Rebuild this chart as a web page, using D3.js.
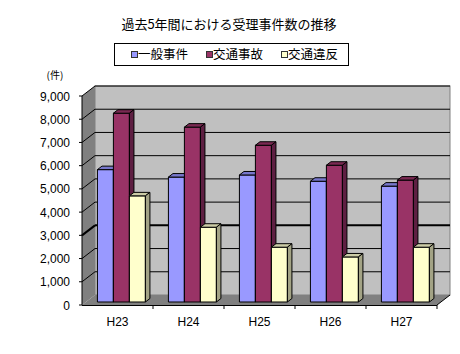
<!DOCTYPE html>
<html>
<head>
<meta charset="utf-8">
<script src="https://cdn.jsdelivr.net/npm/d3@7"></script>
<style>
  body { margin: 0; background: #fff; }
  svg { display: block; }
  .jp { font-family: "Noto Sans CJK JP", sans-serif; }
  .num { font-family: "Liberation Sans", Arial, sans-serif; }
</style>
</head>
<body>
<div id="chart"></div>
<script>
const categories = ["H23", "H24", "H25", "H26", "H27"];
const seriesNames = ["一般事件", "交通事故", "交通違反"];
const ippan = [5700, 5380, 5470, 5200, 4990];
const jiko = [8130, 7530, 6750, 5890, 5250];
const ihan = [4570, 3220, 2360, 1940, 2360];
const yTicks = [0, 1000, 2000, 3000, 4000, 5000, 6000, 7000, 8000, 9000];

const width = 460, height = 354;
const colors = ["#9999ff", "#993366", "#ffffcc"];
const depthX = 13, depthY = -10;
const barZ0 = 0.3, barZ1 = 0.65;

const svg = d3.select("#chart").append("svg")
    .attr("width", width)
    .attr("height", height);

const xScale = d3.scaleBand().domain(categories).range([82, 437]);
const innerScale = d3.scaleBand().domain(seriesNames)
    .range([0, xScale.bandwidth()])
    .paddingInner(0).paddingOuter(0.72);
const yScale = d3.scaleLinear().domain([0, 9000]).range([305, 96]);

// project a front-plane point back by depth z (0..1)
const proj = (x, y, z) => [x + depthX * z, y + depthY * z];
const poly = (pts) => pts.map(p => p.join(",")).join(" ");

const x0 = xScale.range()[0], x1 = xScale.range()[1];
const yTop = yScale(9000), yBot = yScale(0);

// title
svg.append("text")
    .attr("class", "jp")
    .attr("x", 229).attr("y", 29)
    .attr("text-anchor", "middle")
    .attr("font-size", 13)
    .text("過去5年間における受理事件数の推移");

// legend
const legend = svg.append("g");
legend.append("rect")
    .attr("x", 114.5).attr("y", 43.5)
    .attr("width", 234).attr("height", 22)
    .attr("fill", "#fff").attr("stroke", "#000");
const legendX = [131, 206, 281];
seriesNames.forEach((name, i) => {
    legend.append("rect")
        .attr("x", legendX[i] + 0.5).attr("y", 51.5)
        .attr("width", 6).attr("height", 6)
        .attr("fill", colors[i]).attr("stroke", "#333");
    legend.append("text")
        .attr("class", "jp")
        .attr("x", legendX[i] + 7).attr("y", 59)
        .attr("font-size", 12.5)
        .text(name);
});

// unit label
svg.append("text")
    .attr("class", "jp")
    .attr("x", 55).attr("y", 79)
    .attr("text-anchor", "middle")
    .attr("font-size", 10)
    .text("(件)");

// walls
svg.append("polygon")
    .attr("points", poly([[x0, yTop], proj(x0, yTop, 1), proj(x0, yBot, 1), [x0, yBot]]))
    .attr("fill", "#808080");
svg.append("polygon")
    .attr("points", poly([[x0, yBot], [x1, yBot], proj(x1, yBot, 1), proj(x0, yBot, 1)]))
    .attr("fill", "#808080");
const bw = proj(x0, yTop, 1), be = proj(x1, yBot, 1);
svg.append("rect")
    .attr("x", bw[0]).attr("y", bw[1])
    .attr("width", be[0] - bw[0]).attr("height", be[1] - bw[1])
    .attr("fill", "#c0c0c0")
    .attr("stroke", "#808080");

// gridlines on back and side wall
yTicks.filter(v => v > 0).forEach(v => {
    const y = yScale(v);
    const a = proj(x0, y, 1), b = proj(x1, y, 1);
    const sw = v === 3000 ? 2 : 1;
    svg.append("line")
        .attr("x1", a[0]).attr("y1", a[1]).attr("x2", b[0]).attr("y2", b[1])
        .attr("stroke", "#000").attr("stroke-width", sw);
    svg.append("line")
        .attr("x1", x0).attr("y1", y).attr("x2", a[0]).attr("y2", a[1])
        .attr("stroke", "#000").attr("stroke-width", sw);
});

// axes lines
svg.append("line")
    .attr("x1", x0).attr("y1", yTop).attr("x2", x0).attr("y2", yBot)
    .attr("stroke", "#000");
svg.append("line")
    .attr("x1", x0).attr("y1", yBot + 0.5).attr("x2", x1).attr("y2", yBot + 0.5)
    .attr("stroke", "#000");
const fr = proj(x1, yBot, 1);
svg.append("line")
    .attr("x1", x1).attr("y1", yBot).attr("x2", fr[0]).attr("y2", fr[1])
    .attr("stroke", "#000");

// y ticks and labels
yTicks.forEach(v => {
    const y = yScale(v);
    svg.append("line")
        .attr("x1", x0 - 3).attr("y1", y).attr("x2", x0).attr("y2", y)
        .attr("stroke", "#000");
    svg.append("text")
        .attr("class", "num")
        .attr("x", 70).attr("y", y + 4.5)
        .attr("text-anchor", "end")
        .attr("font-size", 12)
        .text(d3.format(",")(v));
});

// x ticks and labels
categories.forEach((c, i) => {
    const xs = xScale(c);
    svg.append("line")
        .attr("x1", xs + xScale.bandwidth()).attr("y1", yBot)
        .attr("x2", xs + xScale.bandwidth()).attr("y2", yBot + 4)
        .attr("stroke", "#000");
    svg.append("text")
        .attr("class", "num")
        .attr("x", xs + xScale.bandwidth() / 2).attr("y", 326)
        .attr("text-anchor", "middle")
        .attr("font-size", 12)
        .text(c);
});

// bars
const seriesData = [ippan, jiko, ihan];
const sideColors = ["#6666aa", "#5e1f42", "#a3a385"];
const topColors = ["#7777cc", "#7a2952", "#cccca6"];
categories.forEach((c, i) => {
    seriesNames.forEach((s, j) => {
        const v = seriesData[j][i];
        const bx0 = xScale(c) + innerScale(s);
        const bx1 = bx0 + innerScale.bandwidth();
        const by0 = yScale(0), by1 = yScale(v);
        const g = svg.append("g").attr("stroke", "#000").attr("stroke-width", 1);
        // front
        g.append("polygon")
            .attr("points", poly([proj(bx0, by1, barZ0), proj(bx1, by1, barZ0), proj(bx1, by0, barZ0), proj(bx0, by0, barZ0)]))
            .attr("fill", colors[j]);
        // top
        g.append("polygon")
            .attr("points", poly([proj(bx0, by1, barZ0), proj(bx1, by1, barZ0), proj(bx1, by1, barZ1), proj(bx0, by1, barZ1)]))
            .attr("fill", topColors[j]);
        // side
        g.append("polygon")
            .attr("points", poly([proj(bx1, by1, barZ0), proj(bx1, by1, barZ1), proj(bx1, by0, barZ1), proj(bx1, by0, barZ0)]))
            .attr("fill", sideColors[j]);
    });
});
</script>
</body>
</html>
